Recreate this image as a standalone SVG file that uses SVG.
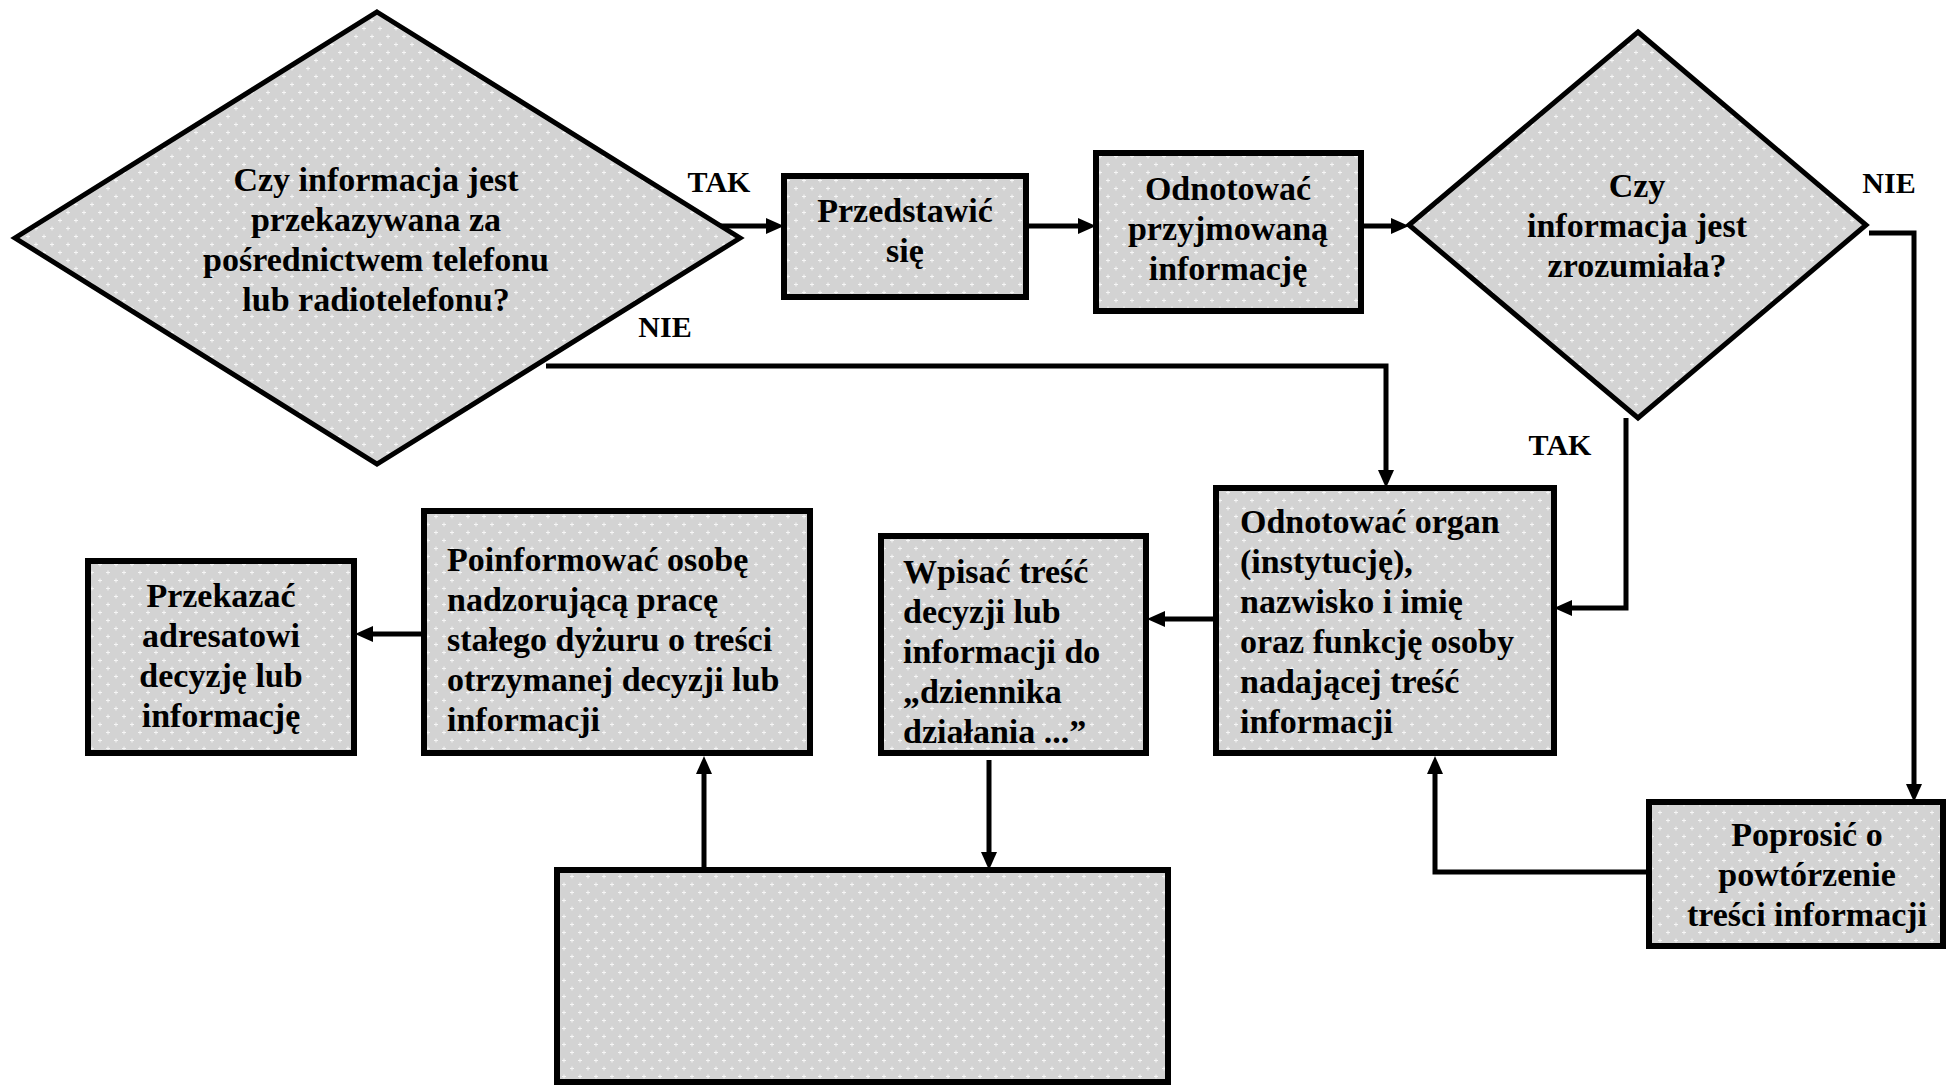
<svg xmlns="http://www.w3.org/2000/svg" width="1946" height="1086" viewBox="0 0 1946 1086">
<defs>
  <pattern id="dots" width="16" height="16" patternUnits="userSpaceOnUse">
    <rect width="16" height="16" fill="#d3d3d3"/>
    <path d="M4 2.5v4M2 4.5h4M12 10.5v4M10 12.5h4" stroke="#ffffff" stroke-width="1" opacity="0.8"/>
  </pattern>
  <marker id="arr" markerUnits="userSpaceOnUse" markerWidth="18" markerHeight="16" viewBox="0 0 18 16" refX="6" refY="8" orient="auto">
    <path d="M0,0 L18,8 L0,16 z" fill="#000"/>
  </marker>
  <style>
    .box{fill:url(#dots);stroke:#000;stroke-width:6}
    .dia{fill:url(#dots);stroke:#000;stroke-width:5;stroke-linejoin:miter}
    .t{font-family:"Liberation Serif","Times New Roman",serif;font-weight:bold;font-size:34px;fill:#000}
    .c{text-anchor:middle}
    .lbl{font-family:"Liberation Serif","Times New Roman",serif;font-weight:bold;font-size:30px;fill:#000;text-anchor:middle}
    .con{fill:none;stroke:#000;stroke-width:5;stroke-linejoin:miter}
  </style>
</defs>
<rect width="1946" height="1086" fill="#fff"/>

<g id="connectors">
  <path class="con" d="M717 226H772" marker-end="url(#arr)"/>
  <path class="con" d="M1026 226H1084" marker-end="url(#arr)"/>
  <path class="con" d="M1361 226H1397" marker-end="url(#arr)"/>
  <path class="con" d="M1869 233H1914V790" marker-end="url(#arr)"/>
  <path class="con" d="M1626 418V608H1566" marker-end="url(#arr)"/>
  <path class="con" d="M546 366H1386V476" marker-end="url(#arr)"/>
  <path class="con" d="M1216 619H1159" marker-end="url(#arr)"/>
  <path class="con" d="M989 760V858" marker-end="url(#arr)"/>
  <path class="con" d="M704 870V768" marker-end="url(#arr)"/>
  <path class="con" d="M424 634H367" marker-end="url(#arr)"/>
  <path class="con" d="M1649 872H1435V768" marker-end="url(#arr)"/>
  <text class="lbl" x="719" y="192">TAK</text>
  <text class="lbl" x="665" y="337">NIE</text>
  <text class="lbl" x="1889" y="193">NIE</text>
  <text class="lbl" x="1560" y="455">TAK</text>
</g>

<g id="d1">
  <polygon class="dia" points="377,12 740,238 377,464 15,238"/>
  <text class="t c" x="376" y="191">Czy informacja jest</text>
  <text class="t c" x="376" y="231">przekazywana za</text>
  <text class="t c" x="376" y="271">pośrednictwem telefonu</text>
  <text class="t c" x="376" y="311">lub radiotelefonu?</text>
</g>

<g id="n_przedstawic">
  <rect class="box" x="784" y="176" width="242" height="121"/>
  <text class="t c" x="905" y="222">Przedstawić</text>
  <text class="t c" x="905" y="262">się</text>
</g>

<g id="n_odnotowac">
  <rect class="box" x="1096" y="153" width="265" height="158"/>
  <text class="t c" x="1228" y="200">Odnotować</text>
  <text class="t c" x="1228" y="240">przyjmowaną</text>
  <text class="t c" x="1228" y="280">informację</text>
</g>

<g id="d2">
  <polygon class="dia" points="1638,32 1866,225 1638,418 1409,225"/>
  <text class="t c" x="1637" y="197">Czy</text>
  <text class="t c" x="1637" y="237">informacja jest</text>
  <text class="t c" x="1637" y="277">zrozumiała?</text>
</g>

<g id="n_organ">
  <rect class="box" x="1216" y="488" width="338" height="265"/>
  <text class="t" x="1240" y="533">Odnotować organ</text>
  <text class="t" x="1240" y="573">(instytucję),</text>
  <text class="t" x="1240" y="613">nazwisko i imię</text>
  <text class="t" x="1240" y="653">oraz funkcję osoby</text>
  <text class="t" x="1240" y="693">nadającej treść</text>
  <text class="t" x="1240" y="733">informacji</text>
</g>

<g id="n_wpisac">
  <rect class="box" x="881" y="536" width="265" height="217"/>
  <text class="t" x="903" y="583">Wpisać treść</text>
  <text class="t" x="903" y="623">decyzji lub</text>
  <text class="t" x="903" y="663">informacji do</text>
  <text class="t" x="903" y="703">„dziennika</text>
  <text class="t" x="903" y="743">działania ...”</text>
</g>

<g id="n_poinformowac">
  <rect class="box" x="424" y="511" width="386" height="242"/>
  <text class="t" x="447" y="571">Poinformować osobę</text>
  <text class="t" x="447" y="611">nadzorującą pracę</text>
  <text class="t" x="447" y="651">stałego dyżuru o treści</text>
  <text class="t" x="447" y="691">otrzymanej decyzji lub</text>
  <text class="t" x="447" y="731">informacji</text>
</g>

<g id="n_przekazac">
  <rect class="box" x="88" y="561" width="266" height="192"/>
  <text class="t c" x="221" y="607">Przekazać</text>
  <text class="t c" x="221" y="647">adresatowi</text>
  <text class="t c" x="221" y="687">decyzję lub</text>
  <text class="t c" x="221" y="727">informację</text>
</g>

<g id="n_empty">
  <rect class="box" x="557" y="870" width="611" height="212"/>
</g>

<g id="n_poprosic">
  <rect class="box" x="1649" y="802" width="294" height="144"/>
  <text class="t c" x="1807" y="846">Poprosić o</text>
  <text class="t c" x="1807" y="886">powtórzenie</text>
  <text class="t c" x="1807" y="926">treści informacji</text>
</g>
</svg>
